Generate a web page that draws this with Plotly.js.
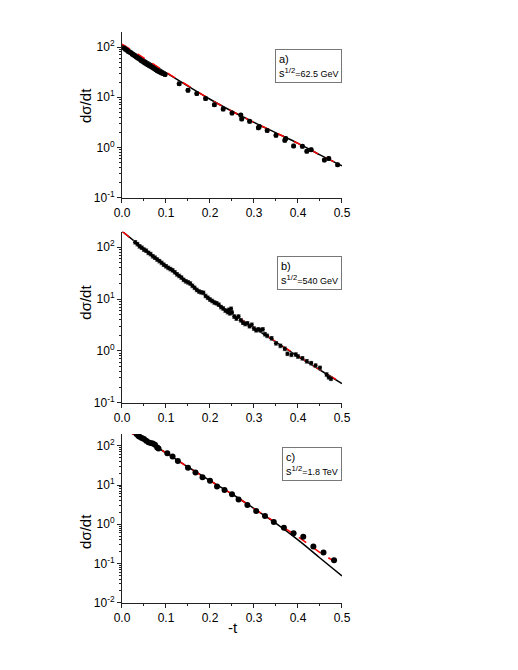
<!DOCTYPE html>
<html>
<head>
<meta charset="utf-8">
<script src="https://cdn.plot.ly/plotly-3.0.1.min.js"></script>
<style>
  body { margin: 0; background: white; }
  #graph { width: 518px; height: 670px; }
</style>
</head>
<body>
<div id="graph"></div>
<script>
// panel a) sqrt(s) = 62.5 GeV
var tA = [0.005, 0.008, 0.011, 0.014, 0.017, 0.020, 0.023, 0.026, 0.029, 0.032, 0.035, 0.038,
    0.041, 0.044, 0.047, 0.050, 0.053, 0.056, 0.059, 0.062, 0.065, 0.068, 0.071, 0.074,
    0.077, 0.080, 0.083, 0.086, 0.089, 0.092, 0.095, 0.098,
    0.13, 0.15, 0.17, 0.19, 0.21, 0.23, 0.25, 0.27, 0.272, 0.29, 0.31, 0.312, 0.33, 0.35,
    0.37, 0.372, 0.39, 0.41, 0.42, 0.43, 0.46, 0.47, 0.49]
var dA = [96, 91, 87, 83, 80, 77, 73, 70, 67, 64, 62, 59,
    57, 54, 52, 50, 48, 46, 44.5, 43, 41.5, 40, 38.5, 37,
    35.5, 34, 33, 32, 31, 30, 29.5, 28.5,
    18.6, 13.8, 11.8, 9.4, 7.1, 5.8, 4.85, 4.4, 3.7, 3.3, 2.45, 2.6, 2.17, 1.74,
    1.38, 1.5, 1.07, 1.05, 0.84, 0.9, 0.56, 0.6, 0.45]

// panel b) sqrt(s) = 540 GeV
var tB = [0.030, 0.035, 0.040, 0.045, 0.050, 0.055, 0.060, 0.065, 0.070, 0.075, 0.080, 0.085,
    0.090, 0.095, 0.100, 0.105, 0.110, 0.115, 0.120, 0.125, 0.130, 0.135, 0.140, 0.145,
    0.150, 0.155, 0.160, 0.165, 0.170, 0.175, 0.180, 0.185, 0.190, 0.195, 0.200, 0.205,
    0.210, 0.215, 0.220, 0.225, 0.230, 0.235, 0.240, 0.243, 0.245, 0.248, 0.250, 0.255,
    0.260, 0.265, 0.270, 0.275, 0.280, 0.285, 0.290, 0.295, 0.300, 0.305, 0.310, 0.315,
    0.320, 0.325, 0.330, 0.340, 0.350, 0.360, 0.370, 0.376, 0.385, 0.395, 0.400, 0.410,
    0.420, 0.430, 0.440, 0.450, 0.465, 0.470, 0.475]
var dB = [125, 115, 104, 98, 90, 86, 78, 74, 67, 63, 58, 54,
    50, 46, 43, 40, 38, 36, 33, 30, 28, 26, 23.5, 22,
    21, 20, 18, 16.5, 15, 14, 13.5, 13.2, 11.5, 10.6, 9.8, 9.2,
    8.6, 8.3, 7.8, 7.0, 6.6, 6.0, 5.6, 6.2, 5.3, 6.5, 5.5, 4.6,
    4.2, 4.6, 3.9, 3.5, 3.3, 3.4, 3.0, 3.2, 2.7, 2.5, 2.6, 2.5,
    2.6, 2.1, 1.95, 1.75, 1.4, 1.25, 1.1, 0.88, 0.84, 0.85, 0.78, 0.72,
    0.63, 0.58, 0.52, 0.47, 0.35, 0.31, 0.29]

// panel c) sqrt(s) = 1.8 TeV
var tC = [0.033, 0.037, 0.040, 0.045, 0.050, 0.055, 0.060, 0.065, 0.070, 0.075, 0.080, 0.083,
    0.103, 0.115, 0.127, 0.150, 0.167, 0.183, 0.200, 0.216, 0.233, 0.250, 0.265, 0.285,
    0.305, 0.325, 0.345, 0.368, 0.390, 0.412, 0.435, 0.458, 0.482]
var dC = [200, 180, 170, 158, 149, 135, 124, 117, 115, 106, 91, 85,
    65, 53, 41, 27.5, 21, 15.8, 12.9, 9.2, 7.5, 5.8, 4.3, 3.08,
    2.19, 1.63, 1.14, 0.81, 0.59, 0.48, 0.27, 0.19, 0.12]

// model curves
var tLine = [0, 0.05, 0.1, 0.15, 0.2, 0.25, 0.3, 0.35, 0.4, 0.45, 0.5]
var blackA = [109.6, 57.5, 30.9, 16.6, 9.12, 5.25, 3.16, 1.95, 1.20, 0.708, 0.427]
var redA = [115, 60.3, 31.6, 17.0, 9.12, 5.25, 3.16, 1.95, 1.20, 0.71, 0.43]
var blackB = [204, 93.3, 44.2, 20.9, 10, 5.25, 2.79, 1.48, 0.78, 0.427, 0.234]
var redB = [204, 93, 44, 21, 10, 5.3, 2.8, 1.5, 0.79, 0.43, 0.24]
var tLineC = [0.02, 0.05, 0.1, 0.15, 0.2, 0.25, 0.3, 0.35, 0.4, 0.45, 0.5]
var blackC = [214, 145, 66, 28.8, 12.9, 5.9, 2.51, 1.05, 0.398, 0.138, 0.048]
var redC = [214, 145, 66, 28.8, 12.9, 5.9, 2.51, 1.1, 0.48, 0.19, 0.087]

var xTicks = [0, 0.1, 0.2, 0.3, 0.4, 0.5]
var yTicks = [0.01, 0.1, 1, 10, 100]
var yTickText = ["10<sup>-2</sup>", "10<sup>-1</sup>", "10<sup>0</sup>", "10<sup>1</sup>", "10<sup>2</sup>"]
var boxText = [
    "a)<br>s<sup>1/2</sup><span style='font-size:9px'>=62.5 GeV</span>",
    "b)<br>s<sup>1/2</sup><span style='font-size:9px'>=540 GeV</span>",
    "c)<br>s<sup>1/2</sup><span style='font-size:9px'>=1.8 TeV</span>"
]

function panel(n, t, d, msize, err, tl, blk, red) {
    var xa = n == 1 ? 'x' : 'x' + n
    var ya = n == 1 ? 'y' : 'y' + n
    var traces = [{
        x: tl, y: blk, xaxis: xa, yaxis: ya,
        mode: 'lines', line: { color: 'black', width: 1.5, shape: 'spline' },
        showlegend: false
    }, {
        x: tl, y: red, xaxis: xa, yaxis: ya,
        mode: 'lines', line: { color: 'red', width: 1.5, dash: 'dash', shape: 'spline' },
        showlegend: false
    }, {
        x: t, y: d, xaxis: xa, yaxis: ya,
        mode: 'markers', marker: { color: 'black', size: msize },
        showlegend: false
    }]
    if (err) {
        traces[2].error_y = { type: 'percent', value: 8, color: '#555', thickness: 1, width: 2 }
    }
    return traces
}

var plot_data = [].concat(
    panel(1, tA, dA, 5, true, tLine, blackA, redA),
    panel(2, tB, dB, 4, true, tLine, blackB, redB),
    panel(3, tC, dC, 6, false, tLineC, blackC, redC)
)

function xaxis(anchor) {
    return {
        domain: [0.2355, 0.6602],
        anchor: anchor,
        range: [0, 0.5],
        tickvals: xTicks,
        tickformat: '.1f',
        ticks: 'outside', ticklen: 4, tickcolor: '#222',
        minor: { ticks: 'outside', ticklen: 2, dtick: 0.05, tickcolor: '#222' },
        showline: true, linecolor: '#222', linewidth: 1,
        showgrid: false, zeroline: false,
        tickfont: { size: 12, color: 'black' }
    }
}

function yaxis(anchor, dom, lo) {
    return {
        domain: dom,
        anchor: anchor,
        type: 'log',
        range: [lo, 2.3],
        tickmode: 'array',
        tickvals: yTicks,
        ticktext: yTickText,
        ticks: 'outside', ticklen: 4, tickcolor: '#222',
        minor: { ticks: 'outside', ticklen: 2, dtick: 'D1', tickcolor: '#222' },
        showline: true, linecolor: '#222', linewidth: 1,
        showgrid: false, zeroline: false,
        tickfont: { size: 12, color: 'black' }
    }
}

var anns = []
var boxTop = [0.9269, 0.6179, 0.3324]
var titleY = [0.8433, 0.5497, 0.2075]
for (var i = 0; i < 3; i++) {
    anns.push({
        xref: 'paper', yref: 'paper', x: 0.6602, y: boxTop[i],
        xanchor: 'right', yanchor: 'top', align: 'left',
        text: boxText[i], showarrow: false,
        font: { size: 11, color: 'black' },
        bordercolor: '#777', borderwidth: 1, borderpad: 3, bgcolor: 'white'
    })
    anns.push({
        xref: 'paper', yref: 'paper', x: 0.166, y: titleY[i],
        xanchor: 'center', yanchor: 'middle', textangle: -90,
        text: 'd\u03c3/dt', showarrow: false,
        font: { size: 15, color: 'black' }
    })
}
anns.push({
    xref: 'paper', yref: 'paper', x: 0.4498, y: 0.0627,
    xanchor: 'center', yanchor: 'middle',
    text: '-t', showarrow: false,
    font: { size: 15, color: 'black' }
})

var layout = {
    width: 518,
    height: 670,
    paper_bgcolor: 'white',
    plot_bgcolor: 'white',
    font: { family: 'Arial, Liberation Sans, sans-serif', size: 12, color: 'black' },
    margin: { l: 0, r: 0, t: 0, b: 0 },
    showlegend: false,
    xaxis: xaxis('y'),
    xaxis2: xaxis('y2'),
    xaxis3: xaxis('y3'),
    yaxis: yaxis('x', [0.7052, 0.9522], -1),
    yaxis2: yaxis('x2', [0.3990, 0.6542], -1),
    yaxis3: yaxis('x3', [0.1005, 0.3522], -2),
    annotations: anns
}

Plotly.newPlot('graph', plot_data, layout, { staticPlot: true })
</script>
</body>
</html>
